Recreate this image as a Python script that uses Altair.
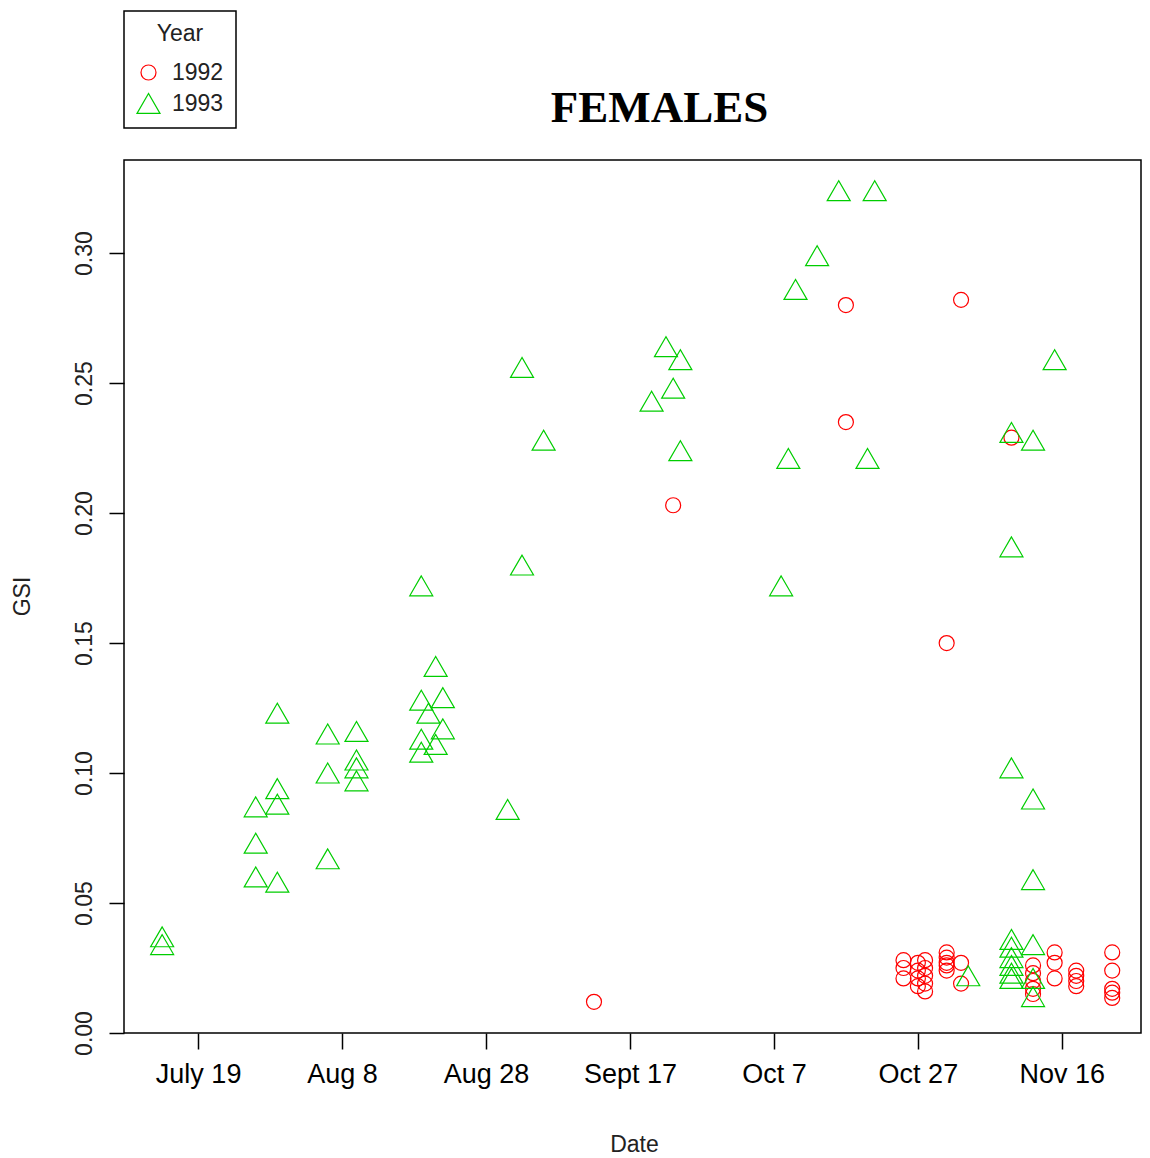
import altair as alt
import pandas as pd

# ---- axis tick values / labels ----
x_tick_labels = ["July 19", "Aug 8", "Aug 28", "Sept 17", "Oct 7", "Oct 27", "Nov 16"]
x_tick_dates = ["07-19", "08-08", "08-28", "09-17", "10-07", "10-27", "11-16"]
y_ticks = [0.00, 0.05, 0.10, 0.15, 0.20, 0.25, 0.30]

# ---- 1992 (circles): sampling date (month-day) and GSI ----
dates_1992 = ["09-12", "09-23", "10-17", "10-17",
              "10-25", "10-25", "10-25",
              "10-27", "10-27", "10-27", "10-27",
              "10-28", "10-28", "10-28", "10-28", "10-28",
              "10-31", "10-31", "10-31", "10-31", "10-31", "10-31",
              "11-02", "11-02", "11-02",
              "11-09",
              "11-12", "11-12", "11-12", "11-12", "11-12",
              "11-15", "11-15", "11-15",
              "11-18", "11-18", "11-18", "11-18",
              "11-23", "11-23", "11-23", "11-23", "11-23"]
gsi_1992 = [0.012, 0.203, 0.280, 0.235,
            0.028, 0.025, 0.021,
            0.027, 0.024, 0.021, 0.018,
            0.028, 0.025, 0.022, 0.019, 0.016,
            0.150, 0.031, 0.029, 0.027, 0.026, 0.024,
            0.282, 0.027, 0.019,
            0.229,
            0.026, 0.023, 0.020, 0.017, 0.015,
            0.031, 0.027, 0.021,
            0.024, 0.022, 0.020, 0.018,
            0.031, 0.024, 0.017, 0.0155, 0.0135]

# ---- 1993 (triangles) ----
dates_1993 = ["07-14", "07-14",
              "07-27", "07-27", "07-27",
              "07-30", "07-30", "07-30", "07-30",
              "08-06", "08-06", "08-06",
              "08-10", "08-10", "08-10", "08-10",
              "08-19", "08-19", "08-19", "08-19",
              "08-20", "08-21", "08-21", "08-22", "08-22",
              "08-31", "09-02", "09-02", "09-05",
              "09-20", "09-22", "09-23", "09-24", "09-24",
              "10-08", "10-09", "10-10", "10-13", "10-16", "10-20", "10-21",
              "11-03",
              "11-09", "11-09", "11-09", "11-09", "11-09", "11-09", "11-09", "11-09", "11-09",
              "11-12", "11-12", "11-12", "11-12", "11-12", "11-12",
              "11-15"]
gsi_1993 = [0.037, 0.034,
            0.087, 0.073, 0.060,
            0.123, 0.094, 0.088, 0.058,
            0.115, 0.100, 0.067,
            0.116, 0.105, 0.102, 0.097,
            0.172, 0.128, 0.113, 0.108,
            0.123, 0.141, 0.111, 0.129, 0.117,
            0.086, 0.256, 0.180, 0.228,
            0.243, 0.264, 0.248, 0.259, 0.224,
            0.172, 0.221, 0.286, 0.299, 0.324, 0.221, 0.324,
            0.022,
            0.231, 0.187, 0.102, 0.036, 0.033, 0.029, 0.026, 0.023, 0.021,
            0.228, 0.090, 0.059, 0.034, 0.021, 0.014,
            0.259]

years = ["1992", "1993"]
colors = ["#FF0000", "#00CD00"]
shapes = ["circle", "triangle-up"]

ref = pd.Timestamp("2001-07-19")


def day_offset(md):
    return (pd.Timestamp("2001-" + md) - ref).days


rows = []
for d, g in zip(dates_1992, gsi_1992):
    rows.append({"day": day_offset(d), "GSI": g, "Year": "1992"})
for d, g in zip(dates_1993, gsi_1993):
    rows.append({"day": day_offset(d), "GSI": g, "Year": "1993"})
df = pd.DataFrame(rows)

tick_days = [day_offset(d) for d in x_tick_dates]
label_expr = "{}[indexof({}, datum.value)]".format(
    "[" + ",".join("'" + s + "'" for s in x_tick_labels) + "]",
    "[" + ",".join(str(v) for v in tick_days) + "]",
)

chart = alt.Chart(df).mark_point(filled=False, strokeWidth=1.2, opacity=1).encode(
    x=alt.X(
        "day:Q",
        scale=alt.Scale(domain=[-10.3, 131.0], nice=False, zero=False),
        axis=alt.Axis(
            values=tick_days,
            labelExpr=label_expr,
            title="Date",
            grid=False,
            domain=False,
            tickSize=16,
            tickWidth=1.5,
            tickColor="black",
            labelFont="Liberation Sans",
            labelFontSize=27,
            labelColor="black",
            labelPadding=12,
            labelBaseline="top",
            titleFont="Liberation Sans",
            titleFontSize=23,
            titleFontWeight="normal",
            titleColor="#222222",
            titleX=510,
            titleY=111,
            titleBaseline="middle",
            titleAlign="center",
        ),
    ),
    y=alt.Y(
        "GSI:Q",
        scale=alt.Scale(domain=[0, 0.3358], nice=False, zero=False),
        axis=alt.Axis(
            values=y_ticks,
            format=".2f",
            title="GSI",
            grid=False,
            domain=False,
            tickSize=15,
            tickWidth=1.5,
            tickColor="black",
            labelAngle=270,
            labelAlign="center",
            labelBaseline="alphabetic",
            labelPadding=18,
            labelFont="Liberation Sans",
            labelFontSize=23,
            labelColor="#222222",
            titleFont="Liberation Sans",
            titleFontSize=23,
            titleFontWeight="normal",
            titleColor="#222222",
            titleAngle=270,
            titleX=-102,
            titleY=436,
            titleBaseline="middle",
            titleAlign="center",
        ),
    ),
    color=alt.Color(
        "Year:N",
        scale=alt.Scale(domain=years, range=colors),
        legend=alt.Legend(
            title="Year",
            orient="none",
            legendX=0,
            legendY=-149,
            strokeColor="black",
            padding=12,
            titleFont="Liberation Sans",
            titleFontSize=23,
            titleFontWeight="normal",
            titleColor="#222222",
            titleAnchor="middle",
            titlePadding=15,
            labelFont="Liberation Sans",
            labelFontSize=23,
            labelColor="#222222",
            labelOffset=11,
            rowPadding=6,
            symbolStrokeWidth=1.2,
        ),
    ),
    shape=alt.Shape("Year:N", scale=alt.Scale(domain=years, range=shapes)),
    size=alt.Size("Year:N", scale=alt.Scale(domain=years, range=[225, 529])),
).properties(
    width=1017,
    height=873,
    background="white",
    autosize=alt.AutoSizeParams(type="none"),
    padding={"left": 116, "top": 152, "right": 1, "bottom": 123},
    title=alt.TitleParams(
        "FEMALES",
        font="Liberation Serif",
        fontSize=45,
        fontWeight="bold",
        color="black",
        anchor="middle",
        frame="group",
        dx=27,
        dy=157,
        offset=0,
        baseline="alphabetic",
    ),
).configure_view(
    stroke="black", strokeWidth=1.5
).configure_legend(
    strokeWidth=1.5
)

chart.save("out.html", embed_options={"renderer": "svg", "actions": False})
